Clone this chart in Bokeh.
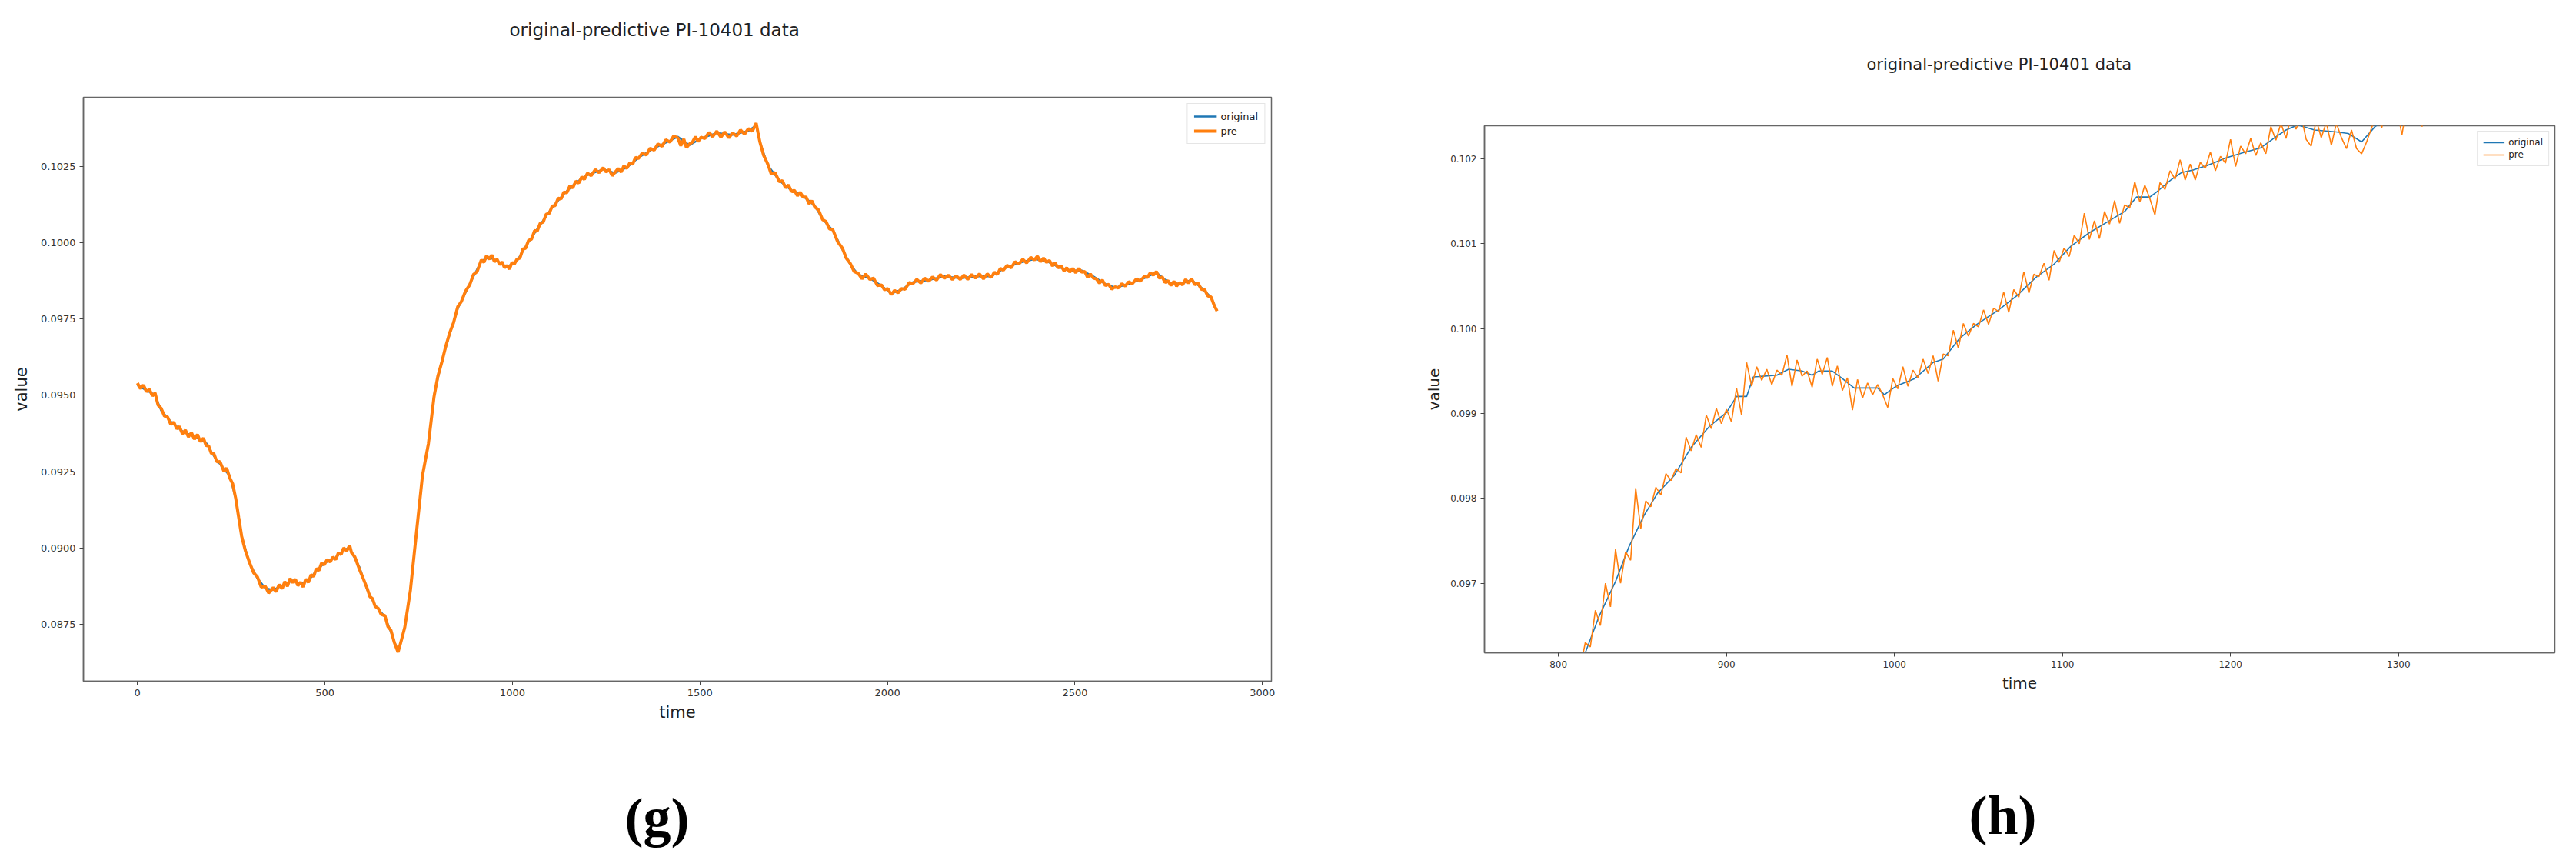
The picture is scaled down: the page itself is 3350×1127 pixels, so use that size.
from bokeh.plotting import figure
from bokeh.models import Range1d, FixedTicker, Legend, LegendItem, PrintfTickFormatter, Title
from bokeh.layouts import row
from bokeh.embed import file_html
from bokeh.resources import INLINE

TITLE = "original-predictive PI-10401 data"
SERIES = ["original", "pre"]
COLORS = ["#1f77b4", "#ff7f0e"]

# ---------------- panel (g): full series ----------------
g_time_orig = [0, 47, 63, 89, 120, 152, 183, 204, 231, 246, 262, 278, 299, 320, 341, 362, 393, 414, 435, 456,
               477, 498, 529, 550, 566, 571, 592, 613, 634, 660, 676, 695, 713, 728, 744, 760, 776, 791, 812, 833,
               854, 886, 917, 938, 959, 985, 1012, 1043, 1074, 1106, 1137, 1169, 1200, 1242, 1274, 1305, 1336,
               1378, 1420, 1441, 1472, 1503, 1545, 1587, 1629, 1650, 1660, 1681, 1712, 1744, 1775, 1806, 1827,
               1854, 1880, 1901, 1922, 1953, 1984, 2010, 2037, 2068, 2110, 2152, 2194, 2235, 2277, 2309, 2350,
               2392, 2424, 2455, 2486, 2518, 2549, 2581, 2607, 2643, 2685, 2717, 2748, 2779, 2811, 2837, 2863, 2879]
g_orig = [0.09533, 0.09501, 0.09451, 0.09414, 0.09382, 0.09364, 0.09345, 0.09301, 0.09257, 0.09238, 0.09163,
          0.09038, 0.08950, 0.08900, 0.08868, 0.08862, 0.08881, 0.08893, 0.08881, 0.08893, 0.08925, 0.08950,
          0.08969, 0.08994, 0.09000, 0.08987, 0.08937, 0.08862, 0.08812, 0.08774, 0.08724, 0.08661, 0.08737,
          0.08862, 0.09050, 0.09238, 0.09338, 0.09501, 0.09614, 0.09702, 0.09784, 0.09865, 0.09940, 0.09953,
          0.09940, 0.09921, 0.09940, 0.10003, 0.10059, 0.10116, 0.10160, 0.10197, 0.10222, 0.10241, 0.10229,
          0.10247, 0.10279, 0.10310, 0.10335, 0.10348, 0.10320, 0.10342, 0.10360, 0.10354, 0.10367, 0.10385,
          0.10329, 0.10254, 0.10204, 0.10172, 0.10153, 0.10122, 0.10078, 0.10041, 0.09978, 0.09928, 0.09896,
          0.09884, 0.09859, 0.09834, 0.09846, 0.09871, 0.09878, 0.09890, 0.09884, 0.09890, 0.09890, 0.09915,
          0.09934, 0.09947, 0.09940, 0.09921, 0.09909, 0.09909, 0.09890, 0.09865, 0.09853, 0.09865, 0.09884,
          0.09903, 0.09871, 0.09865, 0.09878, 0.09853, 0.09821, 0.09777]

g_time_pre = [0, 8, 16, 24, 32, 40, 47, 55, 63, 72, 80, 89, 97, 105, 112, 120, 128, 136, 144, 152, 160, 168, 176,
              183, 190, 197, 204, 212, 220, 231, 238, 246, 254, 262, 270, 278, 288, 299, 310, 320, 330, 341, 350,
              362, 370, 378, 386, 393, 400, 407, 414, 421, 428, 435, 442, 449, 456, 463, 470, 477, 484, 491, 498,
              506, 514, 521, 529, 536, 543, 550, 558, 566, 571, 580, 592, 602, 613, 620, 627, 634, 642, 650, 660,
              668, 676, 685, 695, 704, 713, 728, 744, 760, 776, 791, 801, 812, 822, 833, 843, 854, 864, 875, 886,
              896, 906, 917, 924, 931, 938, 945, 952, 959, 966, 972, 979, 985, 992, 999, 1005, 1012, 1020, 1028,
              1035, 1043, 1051, 1059, 1066, 1074, 1082, 1090, 1098, 1106, 1114, 1122, 1130, 1137, 1145, 1153, 1161,
              1169, 1177, 1185, 1192, 1200, 1210, 1221, 1231, 1242, 1250, 1258, 1266, 1274, 1282, 1290, 1297, 1305,
              1313, 1321, 1328, 1336, 1346, 1357, 1367, 1378, 1388, 1399, 1409, 1420, 1430, 1441, 1449, 1457, 1464,
              1472, 1480, 1488, 1495, 1503, 1513, 1524, 1534, 1545, 1556, 1566, 1577, 1587, 1598, 1608, 1619, 1629,
              1640, 1650, 1655, 1660, 1670, 1681, 1690, 1700, 1712, 1720, 1728, 1736, 1744, 1752, 1760, 1767, 1775,
              1783, 1791, 1798, 1806, 1816, 1827, 1836, 1845, 1854, 1867, 1880, 1890, 1901, 1911, 1922, 1932, 1942,
              1953, 1963, 1973, 1984, 1992, 2001, 2010, 2019, 2028, 2037, 2047, 2058, 2068, 2078, 2089, 2099, 2110,
              2120, 2131, 2141, 2152, 2162, 2173, 2183, 2194, 2204, 2214, 2225, 2235, 2245, 2256, 2266, 2277, 2285,
              2293, 2301, 2309, 2319, 2330, 2340, 2350, 2361, 2371, 2382, 2392, 2400, 2408, 2416, 2424, 2432, 2440,
              2447, 2455, 2463, 2471, 2478, 2486, 2494, 2502, 2510, 2518, 2526, 2534, 2541, 2549, 2557, 2565, 2573,
              2581, 2590, 2598, 2607, 2616, 2625, 2634, 2643, 2653, 2664, 2674, 2685, 2693, 2701, 2709, 2717, 2725,
              2733, 2740, 2748, 2756, 2764, 2771, 2779, 2787, 2795, 2803, 2811, 2820, 2828, 2837, 2846, 2854, 2863,
              2871, 2879]
g_pre = [0.09540, 0.09522, 0.09534, 0.09512, 0.09520, 0.09498, 0.09508, 0.09468, 0.09458, 0.09432, 0.09430,
         0.09405, 0.09412, 0.09390, 0.09398, 0.09374, 0.09386, 0.09364, 0.09378, 0.09356, 0.09372, 0.09348,
         0.09360, 0.09336, 0.09334, 0.09310, 0.09308, 0.09282, 0.09283, 0.09250, 0.09262, 0.09230, 0.09210,
         0.09163, 0.09100, 0.09038, 0.08990, 0.08952, 0.08918, 0.08905, 0.08872, 0.08874, 0.08852, 0.08870,
         0.08856, 0.08880, 0.08866, 0.08890, 0.08874, 0.08900, 0.08886, 0.08898, 0.08876, 0.08888, 0.08872,
         0.08898, 0.08887, 0.08912, 0.08906, 0.08932, 0.08926, 0.08950, 0.08944, 0.08962, 0.08954, 0.08970,
         0.08962, 0.08984, 0.08978, 0.09000, 0.08990, 0.09008, 0.08984, 0.08970, 0.08930, 0.08900, 0.08866,
         0.08840, 0.08834, 0.08808, 0.08802, 0.08782, 0.08778, 0.08742, 0.08730, 0.08690, 0.08658, 0.08698,
         0.08740, 0.08862, 0.09050, 0.09236, 0.09342, 0.09496, 0.09562, 0.09610, 0.09660, 0.09706, 0.09738,
         0.09790, 0.09808, 0.09842, 0.09862, 0.09896, 0.09906, 0.09944, 0.09936, 0.09958, 0.09946, 0.09960,
         0.09938, 0.09946, 0.09928, 0.09938, 0.09918, 0.09926, 0.09914, 0.09936, 0.09930, 0.09946, 0.09950,
         0.09980, 0.09982, 0.10008, 0.10012, 0.10040, 0.10038, 0.10064, 0.10068, 0.10094, 0.10096, 0.10120,
         0.10122, 0.10146, 0.10144, 0.10166, 0.10164, 0.10186, 0.10180, 0.10202, 0.10196, 0.10216, 0.10208,
         0.10228, 0.10220, 0.10240, 0.10230, 0.10246, 0.10232, 0.10240, 0.10220, 0.10232, 0.10244, 0.10232,
         0.10252, 0.10244, 0.10262, 0.10258, 0.10280, 0.10276, 0.10294, 0.10288, 0.10310, 0.10304, 0.10324,
         0.10316, 0.10338, 0.10330, 0.10350, 0.10344, 0.10318, 0.10340, 0.10312, 0.10324, 0.10330, 0.10348,
         0.10332, 0.10346, 0.10342, 0.10362, 0.10348, 0.10366, 0.10346, 0.10364, 0.10344, 0.10360, 0.10350,
         0.10370, 0.10356, 0.10374, 0.10366, 0.10392, 0.10360, 0.10330, 0.10286, 0.10258, 0.10226, 0.10230,
         0.10200, 0.10204, 0.10180, 0.10190, 0.10168, 0.10172, 0.10154, 0.10166, 0.10150, 0.10150, 0.10128,
         0.10138, 0.10118, 0.10108, 0.10076, 0.10070, 0.10046, 0.10044, 0.10004, 0.09982, 0.09950, 0.09932,
         0.09906, 0.09900, 0.09882, 0.09898, 0.09880, 0.09884, 0.09860, 0.09862, 0.09846, 0.09850, 0.09830,
         0.09844, 0.09836, 0.09850, 0.09848, 0.09870, 0.09866, 0.09880, 0.09868, 0.09884, 0.09874, 0.09888,
         0.09878, 0.09896, 0.09884, 0.09894, 0.09880, 0.09892, 0.09880, 0.09894, 0.09880, 0.09896, 0.09884,
         0.09898, 0.09882, 0.09898, 0.09886, 0.09904, 0.09896, 0.09916, 0.09910, 0.09926, 0.09918, 0.09938,
         0.09930, 0.09946, 0.09934, 0.09952, 0.09944, 0.09956, 0.09938, 0.09950, 0.09936, 0.09942, 0.09924,
         0.09934, 0.09918, 0.09924, 0.09908, 0.09918, 0.09904, 0.09916, 0.09902, 0.09916, 0.09904, 0.09906,
         0.09886, 0.09898, 0.09884, 0.09882, 0.09868, 0.09878, 0.09860, 0.09864, 0.09848, 0.09856, 0.09852,
         0.09866, 0.09858, 0.09872, 0.09866, 0.09882, 0.09874, 0.09890, 0.09886, 0.09902, 0.09894, 0.09906,
         0.09884, 0.09888, 0.09870, 0.09876, 0.09860, 0.09874, 0.09858, 0.09870, 0.09862, 0.09880, 0.09868,
         0.09882, 0.09862, 0.09868, 0.09848, 0.09846, 0.09826, 0.09822, 0.09796, 0.09776]

g_xticks = [0, 500, 1000, 1500, 2000, 2500, 3000]
g_yticks = [0.0875, 0.0900, 0.0925, 0.0950, 0.0975, 0.1000, 0.1025]

# ---------------- panel (h): zoomed view ----------------
h_time_orig = [780, 805, 816, 824, 834, 842, 851, 859, 869, 879, 890, 900, 906, 912, 916, 930, 937, 945, 951,
               955, 963, 969, 976, 990, 994, 998, 1002, 1012, 1023, 1029, 1039, 1049, 1062, 1073, 1084, 1095,
               1105, 1116, 1127, 1137, 1144, 1152, 1156, 1165, 1171, 1178, 1186, 1197, 1207, 1218, 1227, 1233,
               1240, 1250, 1262, 1270, 1278, 1286, 1295, 1310, 1320, 1330, 1360, 1400, 1430]
h_orig = [0.0936, 0.0958, 0.09618, 0.09660, 0.09702, 0.09743, 0.09780, 0.09806, 0.09827, 0.09860, 0.09885,
          0.09901, 0.09920, 0.09920, 0.09943, 0.09945, 0.09952, 0.09950, 0.09945, 0.09950, 0.09950, 0.09941,
          0.09930, 0.09930, 0.09922, 0.09928, 0.09933, 0.09941, 0.09960, 0.09964, 0.09989, 0.10005, 0.10022,
          0.10039, 0.10060, 0.10076, 0.10097, 0.10113, 0.10126, 0.10138, 0.10155, 0.10155, 0.10161, 0.10176,
          0.10184, 0.10187, 0.10192, 0.10201, 0.10207, 0.10213, 0.10226, 0.10234, 0.10240, 0.10234, 0.10232,
          0.10230, 0.10220, 0.10238, 0.10250, 0.10255, 0.10258, 0.10270, 0.10290, 0.10320, 0.10340]

h_time_pre = [780, 805, 813, 816, 819, 822, 825, 828, 831, 834, 837, 840, 843, 846, 849, 852, 855, 858, 861, 864,
              867, 870, 873, 876, 879, 882, 885, 888, 891, 894, 897, 900, 903, 906, 909, 912, 915, 918, 921, 924,
              927, 930, 933, 936, 939, 942, 945, 948, 951, 954, 957, 960, 963, 966, 969, 972, 975, 978, 981, 984,
              987, 990, 993, 996, 999, 1002, 1005, 1008, 1011, 1014, 1017, 1020, 1023, 1026, 1029, 1032, 1035,
              1038, 1041, 1044, 1047, 1050, 1053, 1056, 1059, 1062, 1065, 1068, 1071, 1074, 1077, 1080, 1083,
              1086, 1089, 1092, 1095, 1098, 1101, 1104, 1107, 1110, 1113, 1116, 1119, 1122, 1125, 1128, 1131,
              1134, 1137, 1140, 1143, 1146, 1149, 1152, 1155, 1158, 1161, 1164, 1167, 1170, 1173, 1176, 1179,
              1182, 1185, 1188, 1191, 1194, 1197, 1200, 1203, 1206, 1209, 1212, 1215, 1218, 1221, 1224, 1227,
              1230, 1233, 1236, 1239, 1242, 1245, 1248, 1251, 1254, 1257, 1260, 1263, 1266, 1269, 1272, 1275,
              1278, 1281, 1284, 1287, 1290, 1293, 1296, 1299, 1302, 1305, 1308, 1311, 1314, 1317, 1320, 1330,
              1360, 1400, 1430]
h_pre = [0.0935, 0.0957, 0.09600, 0.09630, 0.09625, 0.09668, 0.09650, 0.09700, 0.09672, 0.09740, 0.09700,
         0.09737, 0.09727, 0.09812, 0.09764, 0.09797, 0.09790, 0.09813, 0.09804, 0.09829, 0.09821, 0.09835,
         0.09830, 0.09872, 0.09856, 0.09875, 0.09860, 0.09898, 0.09882, 0.09906, 0.09888, 0.09905, 0.09890,
         0.09930, 0.09898, 0.09960, 0.09932, 0.09955, 0.09939, 0.09952, 0.09934, 0.09951, 0.09945, 0.09969,
         0.09932, 0.09963, 0.09944, 0.09950, 0.09931, 0.09964, 0.09946, 0.09966, 0.09932, 0.09956, 0.09927,
         0.09942, 0.09904, 0.09940, 0.09918, 0.09936, 0.09922, 0.09934, 0.09922, 0.09907, 0.09941, 0.09929,
         0.09955, 0.09932, 0.09951, 0.09942, 0.09964, 0.09947, 0.09968, 0.09938, 0.09970, 0.09968, 0.09998,
         0.09977, 0.10006, 0.09991, 0.10006, 0.10002, 0.10022, 0.10005, 0.10024, 0.10020, 0.10043, 0.10019,
         0.10046, 0.10037, 0.10067, 0.10042, 0.10064, 0.10061, 0.10077, 0.10057, 0.10092, 0.10078, 0.10095,
         0.10085, 0.10110, 0.10100, 0.10136, 0.10105, 0.10127, 0.10106, 0.10138, 0.10123, 0.10151, 0.10124,
         0.10146, 0.10142, 0.10173, 0.10149, 0.10169, 0.10153, 0.10134, 0.10172, 0.10164, 0.10186, 0.10176,
         0.10199, 0.10175, 0.10194, 0.10175, 0.10196, 0.10189, 0.10208, 0.10186, 0.10203, 0.10195, 0.10223,
         0.10191, 0.10215, 0.10206, 0.10224, 0.10204, 0.10219, 0.10206, 0.10238, 0.10222, 0.10242, 0.10224,
         0.10251, 0.10235, 0.10251, 0.10223, 0.10215, 0.10246, 0.10225, 0.10243, 0.10216, 0.10242, 0.10225,
         0.10212, 0.10234, 0.10212, 0.10206, 0.10220, 0.10237, 0.10251, 0.10237, 0.10259, 0.10244, 0.10261,
         0.10228, 0.10265, 0.10244, 0.10265, 0.10238, 0.10267, 0.10270, 0.10272, 0.10292, 0.10322, 0.10342]

h_xticks = [800, 900, 1000, 1100, 1200, 1300]
h_yticks = [0.097, 0.098, 0.099, 0.100, 0.101, 0.102]

FONT = "DejaVu Sans"
TXT = "#222222"


def style(p, xticks, yticks, yfmt, tick_size, label_size, ylab_standoff, xlab_standoff):
    p.xgrid.visible = False
    p.ygrid.visible = False
    p.outline_line_color = "#666666"
    p.outline_line_width = 1.5
    p.xaxis.ticker = FixedTicker(ticks=xticks)
    p.yaxis.ticker = FixedTicker(ticks=yticks)
    p.xaxis.formatter = PrintfTickFormatter(format="%d")
    p.yaxis.formatter = PrintfTickFormatter(format=yfmt)
    for ax in (p.xaxis, p.yaxis):
        ax.axis_line_color = "#666666"
        ax.axis_line_width = 1.5
        ax.major_tick_line_color = "#444444"
        ax.major_tick_out = 5
        ax.major_tick_in = 0
        ax.minor_tick_line_color = None
        ax.major_label_text_font = FONT
        ax.major_label_text_font_size = tick_size
        ax.major_label_text_color = "#333333"
        ax.axis_label_text_font = FONT
        ax.axis_label_text_font_size = label_size
        ax.axis_label_text_font_style = "normal"
        ax.axis_label_text_color = TXT
    p.xaxis.major_label_standoff = 5
    p.yaxis.major_label_standoff = 5
    p.xaxis.axis_label_standoff = xlab_standoff
    p.yaxis.axis_label_standoff = ylab_standoff


def spacer(p, side, gap):
    p.add_layout(Title(text=" ", text_font_size="1px", standoff=gap), side)


def set_title(p, size, offset, gap):
    spacer(p, "above", gap)
    p.title.text = TITLE
    p.title.align = "left"
    p.title.text_font = FONT
    p.title.text_font_size = size
    p.title.text_font_style = "normal"
    p.title.text_color = TXT
    p.title.offset = offset
    p.title.standoff = 0


def add_caption(p, text, offset, gap):
    spacer(p, "below", gap)
    cap = Title(text=text, align="left", offset=offset, standoff=0, vertical_align="top",
                text_font="Liberation Serif", text_font_size="72px", text_font_style="bold",
                text_color="#000000")
    p.add_layout(cap, "below")


# ---------- left figure (g) ----------
pg = figure(width=1780, height=1111, output_backend="svg", toolbar_location=None, frame_align=False,
            x_range=Range1d(-144, 3024), y_range=Range1d(0.08563, 0.10477),
            min_border_left=108, min_border_right=127, min_border_top=126, min_border_bottom=226,
            x_axis_label="time", y_axis_label="value")
style(pg, g_xticks, g_yticks, "%.4f", "13px", "21px", 10, 6)
set_title(pg, "23px", 554, 72)
rg1 = pg.line(g_time_orig, g_orig, line_color=COLORS[0], line_width=2.5)
rg2 = pg.line(g_time_pre, g_pre, line_color=COLORS[1], line_width=4)
leg_g = Legend(items=[LegendItem(label=SERIES[0], renderers=[rg1]), LegendItem(label=SERIES[1], renderers=[rg2])],
               location="top_right", margin=8, padding=8, spacing=3, glyph_width=30, glyph_height=16,
               label_height=16, label_text_font=FONT, label_text_font_size="13px", label_text_color=TXT,
               border_line_color="#cccccc", background_fill_alpha=0.8)
pg.add_layout(leg_g)
add_caption(pg, "(g)", 704, 79)

# ---------- right figure (h) ----------
ph = figure(width=1554, height=1111, output_backend="svg", toolbar_location=None, frame_align=False,
            x_range=Range1d(756, 1393), y_range=Range1d(0.09618, 0.10239),
            min_border_left=150, min_border_right=12, min_border_top=163, min_border_bottom=263,
            x_axis_label="time", y_axis_label="value")
style(ph, h_xticks, h_yticks, "%.3f", "12px", "20px", 6, 5)
set_title(ph, "21px", 497, 65)
rh1 = ph.line(h_time_orig, h_orig, line_color=COLORS[0], line_width=1.6)
rh2 = ph.line(h_time_pre, h_pre, line_color=COLORS[1], line_width=1.6)
leg_h = Legend(items=[LegendItem(label=SERIES[0], renderers=[rh1]), LegendItem(label=SERIES[1], renderers=[rh2])],
               location="top_right", margin=7, padding=7, spacing=2, glyph_width=28, glyph_height=14,
               label_height=14, label_text_font=FONT, label_text_font_size="12px", label_text_color=TXT,
               border_line_color="#cccccc", background_fill_alpha=0.8)
ph.add_layout(leg_h)
add_caption(ph, "(h)", 630, 114)

layout = row(pg, ph)
open("out.html", "w").write(file_html(layout, INLINE))
